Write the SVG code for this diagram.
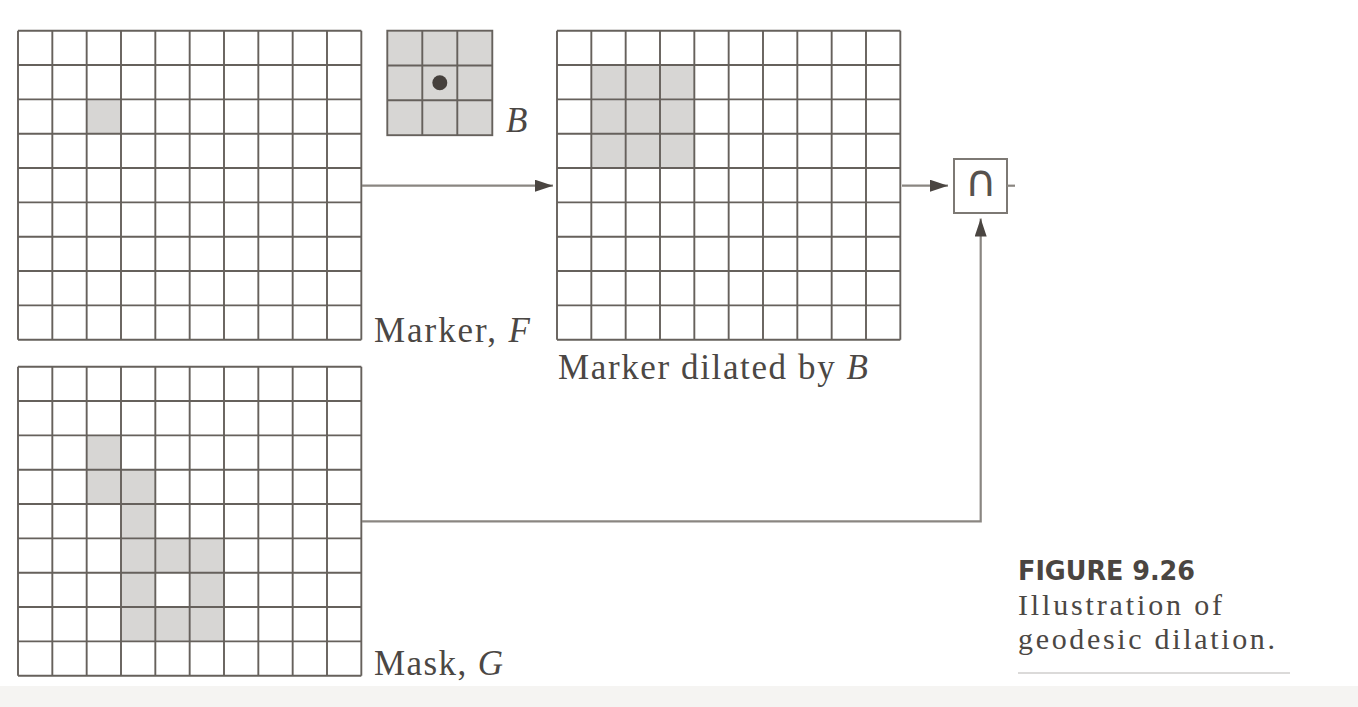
<svg xmlns="http://www.w3.org/2000/svg" xmlns:xlink="http://www.w3.org/1999/xlink" width="1358" height="707" viewBox="0 0 1358 707">
<style>
.bg{fill:#ffffff}
.band{fill:#f5f4f2}
.cell{fill:#d7d6d4}
.gl{fill:none;stroke:#66615c;stroke-width:1.9}
.conn{fill:none;stroke:#8a8681;stroke-width:2.2}
.box{fill:#ffffff;stroke:#7d7974;stroke-width:2}
.lbl{font-family:"Liberation Serif","Times New Roman",serif;font-size:35px;fill:#4b4744}
.it{font-style:italic}
.figno{font-family:"DejaVu Sans","Liberation Sans",sans-serif;font-stretch:condensed;font-weight:bold;font-size:27px;fill:#4a4541}
.cap{font-family:"Liberation Serif","Times New Roman",serif;font-size:30px;fill:#4b4744}
.sym{font-family:"DejaVu Sans",sans-serif;font-size:44px;fill:#57524e}
</style>
<defs>
<path id="grid" class="gl" d="M0,0V309M34.33,0V309M68.67,0V309M103,0V309M137.33,0V309M171.67,0V309M206,0V309M240.33,0V309M274.67,0V309M309,0V309M343.33,0V309M0,0H343.33M0,34.33H343.33M0,68.67H343.33M0,103H343.33M0,137.33H343.33M0,171.67H343.33M0,206H343.33M0,240.33H343.33M0,274.67H343.33M0,309H343.33"/>
<marker id="ah" markerUnits="userSpaceOnUse" markerWidth="18" markerHeight="12" refX="18" refY="6" orient="auto">
<path d="M0,0L18,6L0,12z" fill="#4a4541"/>
</marker>
</defs>
<rect class="bg" x="0" y="0" width="1358" height="707"/>
<rect class="band" x="0" y="686" width="1358" height="21"/>

<g id="marker-F">
<rect class="cell" x="86.67" y="99.37" width="34.33" height="34.33"/>
<use xlink:href="#grid" href="#grid" transform="translate(18,30.7)"/>
<text class="lbl" x="374" y="341.7" textLength="156" lengthAdjust="spacing">Marker, <tspan class="it">F</tspan></text>
</g>

<g id="struct-B">
<rect x="387.3" y="30.7" width="105" height="104.5" fill="#d7d6d4" stroke="#66615c" stroke-width="1.9"/>
<path class="gl" d="M422.3,30.7V135.2M457.3,30.7V135.2M387.3,65.5H492.3M387.3,100.3H492.3"/>
<circle cx="439.8" cy="82.8" r="7.5" fill="#45403c"/>
<text class="lbl it" x="506" y="131.7">B</text>
</g>

<g id="dilated">
<rect class="cell" x="591.33" y="65.03" width="103" height="103"/>
<use xlink:href="#grid" href="#grid" transform="translate(557,30.7)"/>
<text class="lbl" x="558" y="379.3" textLength="310" lengthAdjust="spacing">Marker dilated by <tspan class="it">B</tspan></text>
</g>

<g id="mask-G">
<rect class="cell" x="86.67" y="435.37" width="34.33" height="34.33"/>
<rect class="cell" x="86.67" y="469.7" width="68.67" height="34.33"/>
<rect class="cell" x="121" y="504.03" width="34.33" height="34.33"/>
<rect class="cell" x="121" y="538.37" width="103" height="34.33"/>
<rect class="cell" x="121" y="572.7" width="34.33" height="34.33"/>
<rect class="cell" x="189.67" y="572.7" width="34.33" height="34.33"/>
<rect class="cell" x="121" y="607.03" width="103" height="34.33"/>
<use xlink:href="#grid" href="#grid" transform="translate(18,366.7)"/>
<text class="lbl" x="374" y="675" textLength="129" lengthAdjust="spacing">Mask, <tspan class="it">G</tspan></text>
</g>

<g id="intersect">
<rect class="box" x="954" y="159" width="53" height="54"/>
<text class="sym" x="980.5" y="196" text-anchor="middle">∩</text>
</g>

<g id="connectors">
<path class="conn" d="M362,185.7H553" marker-end="url(#ah)"/>
<path class="conn" d="M902,185.7H948" marker-end="url(#ah)"/>
<path class="conn" d="M1007,185.7H1015"/>
<path class="conn" d="M362,521.3H980.7V218.5" marker-end="url(#ah)"/>
</g>

<g id="caption">
<text class="figno" x="1018" y="580" textLength="177" lengthAdjust="spacingAndGlyphs">FIGURE 9.26</text>
<text class="cap" x="1018" y="615" textLength="204" lengthAdjust="spacing">Illustration of</text>
<text class="cap" x="1018" y="649" textLength="257" lengthAdjust="spacing">geodesic dilation.</text>
<path d="M1018,673H1290" fill="none" stroke="#cfcecc" stroke-width="1.5"/>
</g>
</svg>
